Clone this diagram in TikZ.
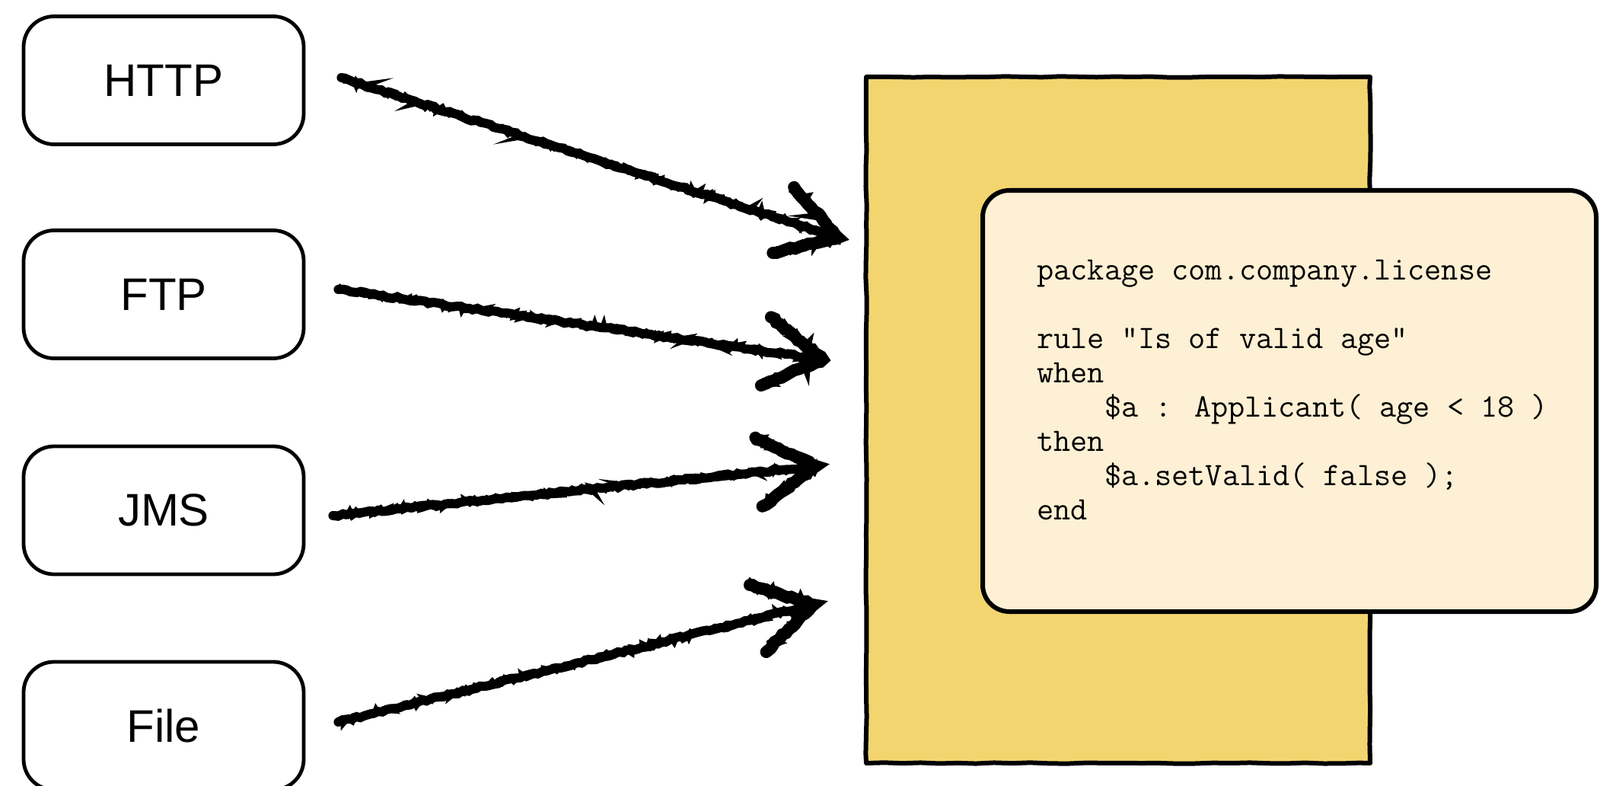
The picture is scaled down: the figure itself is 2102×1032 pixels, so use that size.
\documentclass[tikz,border=0pt]{standalone}
\usepackage{fontspec}
\setmainfont{Liberation Sans}
\usetikzlibrary{arrows.meta,calc,positioning,decorations.pathmorphing}
\definecolor{EngineYellow}{RGB}{243,213,112}
\definecolor{CardCream}{RGB}{253,240,212}
\tikzset{
  srcbox/.style={draw,line width=2.4pt,rounded corners=20pt,minimum width=184pt,minimum height=84pt,font=\fontsize{30}{36}\selectfont},
  rough/.style={draw,line width=3pt,line join=round,decorate,decoration={random steps,segment length=12pt,amplitude=0.35pt}},
  cardbox/.style={draw,line width=3pt,rounded corners=17.5pt,fill=CardCream},
  scrawl/.style={
    postaction={draw,line width=6pt,line cap=round,line join=miter,decorate,decoration={random steps,segment length=3pt,amplitude=0.8pt}},
    postaction={draw,line width=4pt,line cap=round,line join=miter,decorate,decoration={random steps,segment length=2pt,amplitude=1.8pt}}},
  scrawlhead/.style={
    postaction={draw,line width=8pt,line cap=round,line join=miter,decorate,decoration={random steps,segment length=3pt,amplitude=0.8pt}},
    postaction={draw,line width=5pt,line cap=round,line join=miter,decorate,decoration={random steps,segment length=2pt,amplitude=1.8pt}}},
}
\begin{document}
\begin{tikzpicture}[x=0.5pt,y=-0.5pt]
\useasboundingbox (0,0) rectangle (2102,1032);
% transports
\node[srcbox] (http) at (215,105.5){HTTP};
\node[srcbox] (ftp) at (215,386.5){FTP};
\node[srcbox] (jms) at (215,670){JMS};
\node[srcbox] (file) at (215,953){File};
% rule engine and rule card
\node[rough,fill=EngineYellow,minimum width=331pt,minimum height=450.5pt] (engine) at (1469,551.5){};
\node[cardbox,minimum width=403pt,minimum height=276.5pt] (card) at (1694,526.5){};
\node[anchor=north west,inner sep=0pt,align=left,font=\ttfamily\fontsize{21.5}{22.5}\selectfont] (code) at ([xshift=37pt,yshift=-47pt]card.north west){package com.company.license\\[22.5pt]
rule "Is of valid age"\\
when\\
\hphantom{then}\$a : Applicant( age < 18 )\\
then\\
\hphantom{then}\$a.setValid( false );\\
end};
% arrow ends
\coordinate (httpout) at ([xshift=23.5pt,yshift=1.75pt]http.east);
\coordinate (ftpout) at ([xshift=21.5pt,yshift=3.25pt]ftp.east);
\coordinate (jmsout) at ([xshift=18pt,yshift=-3.5pt]jms.east);
\coordinate (fileout) at ([xshift=21.5pt,yshift=2.5pt]file.east);
\coordinate (httptip) at (1101,312);
\coordinate (ftptip) at (1081,472);
\coordinate (jmstip) at (1072,612);
\coordinate (filetip) at (1069,794);
\foreach \src in {http,ftp,jms,file}{
  \path[scrawl] (\src out) -- (\src tip);
  \path[scrawlhead] ($(\src tip)!44pt!31:(\src out)$) -- (\src tip) -- ($(\src tip)!44pt!-31:(\src out)$);
}
\end{tikzpicture}
\end{document}
